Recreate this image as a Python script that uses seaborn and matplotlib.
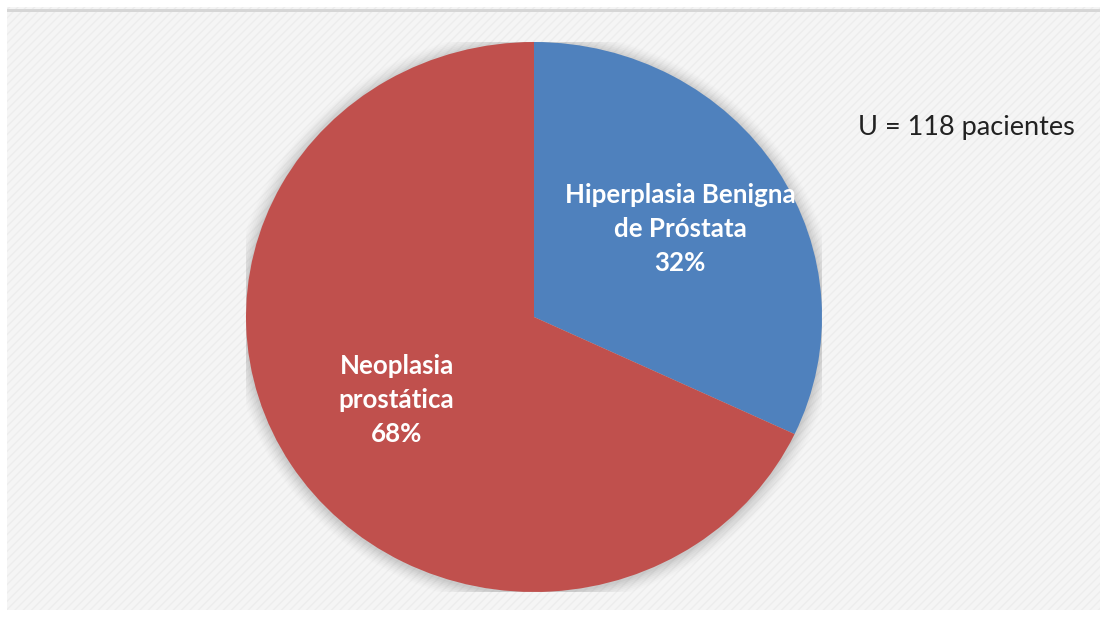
import numpy as np
import matplotlib
matplotlib.use("Agg")
import matplotlib.pyplot as plt
from matplotlib.patches import Rectangle, Ellipse
import seaborn as sns

# ---- data ----
categories = ["Hiperplasia Benigna\nde Próstata", "Neoplasia\nprostática"]
values = [32, 68]
colors = ["#4F81BD", "#C0504D"]
note = "U = 118 pacientes"

sns.set_theme(style="white")
plt.rcParams["font.family"] = ["Lato", "DejaVu Sans"]

W, H = 1100, 617
fig = plt.figure(figsize=(W / 100, H / 100), dpi=100)
fig.patch.set_facecolor("white")

# background panel with faint diagonal texture
panel = Rectangle((7 / W, 7 / H), 1 - 7 / W, (610 - 7) / H, transform=fig.transFigure,
                  facecolor="#f5f5f5", edgecolor="#ededed", hatch="////", linewidth=0, zorder=-2)
fig.patches.append(panel)
topline = Rectangle((7 / W, (617 - 12) / H), 1 - 7 / W, 2.5 / H, transform=fig.transFigure,
                    facecolor="#d6d6d6", edgecolor="none", zorder=-1)
fig.patches.append(topline)

# pie axes: center (534, 317) px, radii 288 x 275 px (slightly stretched like the source)
cx, cy, rx, ry = 534, H - 317, 288, 275
ax = fig.add_axes([(cx - rx) / W, (cy - ry) / H, 2 * rx / W, 2 * ry / H])
ax.set_zorder(2)
ax.axis("off")
ax.patch.set_alpha(0)

# soft shadow
for k, a in zip(np.linspace(1.05, 1.005, 8), np.linspace(0.02, 0.08, 8)):
    ax.add_patch(Ellipse((0.0, -0.005), 2 * k, 2 * k, facecolor="#808080", alpha=a,
                         edgecolor="none", zorder=0))

wedges, _ = ax.pie(values, colors=colors, startangle=90, counterclock=False, radius=1,
                   wedgeprops=dict(linewidth=0, zorder=2), center=(0, 0), frame=False)
ax.set_xlim(-1, 1)
ax.set_ylim(-1, 1)
ax.set_aspect("auto")

label_dist = [0.60, 0.565]
for w, lab, v, d in zip(wedges, categories, values, label_dist):
    mid = np.deg2rad((w.theta1 + w.theta2) / 2)
    ax.text(d * np.cos(mid), d * np.sin(mid), f"{lab}\n{v}%", ha="center", va="center",
            color="white", fontsize=18.6, fontweight="bold", linespacing=1.5, zorder=3)

fig.text(966 / W, 1 - 127 / H, note, ha="center", va="center", fontsize=19.5, color="#222222")

fig.savefig("out.png", dpi=100, facecolor=fig.get_facecolor())
